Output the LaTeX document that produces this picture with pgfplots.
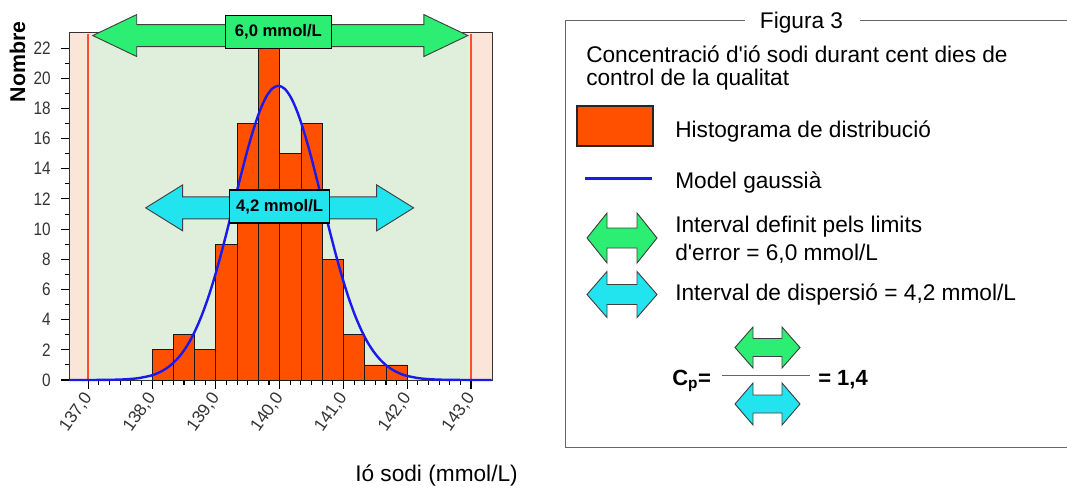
\documentclass[border=0pt]{standalone}
\usepackage{pgfplots}
\pgfplotsset{compat=1.18}
\usepackage{fontspec}
\setmainfont{Liberation Sans}
\newfontfamily\narrowsans[FakeStretch=0.85]{Liberation Sans}
\usetikzlibrary{calc}

\definecolor{barorange}{HTML}{FF5000}
\definecolor{errgreen}{HTML}{2CEE72}
\definecolor{dispcyan}{HTML}{22E4EE}
\definecolor{gaussblue}{HTML}{1A1AEE}
\definecolor{limitred}{HTML}{FF4E2E}
\definecolor{insidebg}{HTML}{DFEFDB}
\definecolor{outsidebg}{HTML}{FBE4D8}
\definecolor{ticktext}{HTML}{333333}

\newcommand{\lgd}{\fontsize{17}{19}\selectfont}
% double-headed block arrow: style, left tip, right tip, head length, head half-height, shaft half-height
\newcommand{\dblarrow}[6]{%
  \filldraw[#1] #2 -- ($#2+(#4,#5)$) -- ($#2+(#4,#6)$) -- ($#3+(-#4,#6)$) -- ($#3+(-#4,#5)$) -- #3
    -- ($#3+(-#4,-#5)$) -- ($#3+(-#4,-#6)$) -- ($#2+(#4,-#6)$) -- ($#2+(#4,-#5)$) -- cycle;}

\begin{document}
\begin{tikzpicture}
\useasboundingbox (0,0) rectangle (800.25pt,-366.75pt);

\begin{axis}[
  at={(52.5pt,-285pt)}, anchor=south west,
  scale only axis, width=316.3pt, height=260.25pt,
  xmin=136.713, xmax=143.325, ymin=0, ymax=23,
  clip=false,
  % the background fills cover the inner half of the frame line
  axis line style={black!80, line width=1.9pt},
  xtick={137,138,...,143},
  xticklabels={{137,0},{138,0},{139,0},{140,0},{141,0},{142,0},{143,0}},
  ytick={0,2,...,22},
  minor x tick num=5, minor y tick num=1,
  tick align=outside, xtick pos=left, ytick pos=left,
  major tick length=6.5pt, minor tick length=3.5pt,
  every tick/.style={black, line width=0.8pt},
  /pgf/number format/assume math mode=true,
  x tick label style={rotate=55, anchor=east, yshift=-2.5pt,
                      font=\fontsize{13}{13}\selectfont, text=ticktext},
  y tick label style={xshift=-4.5pt, font=\narrowsans\fontsize{13.5}{13.5}\selectfont, text=ticktext},
]
  % acceptance band and the region outside the error limits
  \fill[outsidebg] (axis cs:136.713,0) rectangle (axis cs:137,23);
  \fill[outsidebg] (axis cs:143,0) rectangle (axis cs:143.325,23);
  \fill[insidebg] (axis cs:137,0) rectangle (axis cs:143,23);
  \addplot[limitred, line width=1.5pt] coordinates {(137,0) (137,22.95)};
  \addplot[limitred, line width=1.5pt] coordinates {(143,0) (143,22.95)};

  % histogram, bins of 1/3 mmol/L
  \addplot[ybar interval, fill=barorange, draw=black!90, line width=0.6pt] coordinates {
    (138.000,2) (138.333,3) (138.667,2) (139.000,9) (139.333,17) (139.667,22)
    (140.000,15) (140.333,17) (140.667,8) (141.000,3) (141.333,1) (141.667,1) (142.000,1)};

  % gaussian model
  \addplot[gaussblue, line width=1.8pt, smooth] coordinates {
    (136.713,0) (136.98,0.0015) (137.18,0.005) (137.38,0.016) (137.58,0.046) (137.78,0.12)
    (137.98,0.29) (138.08,0.44) (138.18,0.65) (138.28,0.94) (138.38,1.33) (138.48,1.84)
    (138.58,2.49) (138.68,3.31) (138.78,4.30) (138.88,5.47) (138.98,6.82) (139.08,8.33)
    (139.18,9.96) (139.28,11.66) (139.38,13.36) (139.48,15.00) (139.58,16.48) (139.68,17.74)
    (139.78,18.70) (139.88,19.30) (139.98,19.50) (140.08,19.30) (140.18,18.70) (140.28,17.74)
    (140.38,16.48) (140.48,15.00) (140.58,13.36) (140.68,11.66) (140.78,9.96) (140.88,8.33)
    (140.98,6.82) (141.08,5.47) (141.18,4.30) (141.28,3.31) (141.38,2.49) (141.48,1.84)
    (141.58,1.33) (141.68,0.94) (141.78,0.65) (141.88,0.44) (141.98,0.29) (142.18,0.12)
    (142.38,0.046) (142.58,0.016) (142.78,0.005) (142.98,0.0015) (143.325,0)};

  \coordinate (gL) at (axis cs:137.07,22.83);
  \coordinate (gR) at (axis cs:142.95,22.83);
  \coordinate (gBox) at (axis cs:139.98,23.06);
  \coordinate (cL) at (axis cs:137.9,11.41);
  \coordinate (cR) at (axis cs:142.1,11.41);
  \coordinate (cBox) at (axis cs:140.0,11.5);
\end{axis}

\begin{scope}[x=0.75pt, y=-0.75pt]
  % interval arrows over the histogram
  \dblarrow{fill=errgreen, draw=black!75, line width=0.7pt}{(gL)}{(gR)}{44}{21}{11}
  \node[fill=errgreen, draw=black, line width=0.8pt, minimum width=79.5pt, minimum height=24.75pt,
        inner sep=0pt, font=\bfseries\fontsize{12.5}{12.5}\selectfont] at (gBox) {6,0 mmol/L};
  \dblarrow{fill=dispcyan, draw=black!75, line width=0.7pt}{(cL)}{(cR)}{37}{23}{11}
  \node[fill=dispcyan, draw=black, line width=0.8pt, minimum width=75pt, minimum height=24.75pt,
        inner sep=0pt, font=\bfseries\fontsize{12.5}{12.5}\selectfont] at (cBox) {4,2 mmol/L};

  % axis titles
  \node[rotate=90, inner sep=0pt, font=\bfseries\fontsize{16}{16}\selectfont] at (17.5,62) {Nombre};
  \node[anchor=base west, inner sep=0pt, font=\lgd] at (355,481) {Ió sodi (mmol/L)};

  % key panel
  \draw[black!60, line width=0.75pt] (745,20) -- (565,20) -- (565,447) -- (1075,447);
  \draw[black!60, line width=0.75pt] (860,20) -- (1075,20);
  \node[anchor=base, inner sep=0pt, font=\lgd] at (801.5,28) {Figura 3};
  \node[anchor=base west, inner sep=0pt, font=\lgd] at (586,62) {Concentració d\textquotesingle ió sodi durant cent dies de};
  \node[anchor=base west, inner sep=0pt, font=\lgd] at (586,85) {control de la qualitat};

  \filldraw[fill=barorange, draw=black!85, line width=0.8pt] (577,106) rectangle (653,146);
  \node[anchor=base west, inner sep=0pt, font=\lgd] at (675,137) {Histograma de distribució};

  \draw[gaussblue, line width=2.25pt] (585,178) -- (652,178);
  \node[anchor=base west, inner sep=0pt, font=\lgd] at (675,188) {Model gaussià};

  \dblarrow{fill=errgreen, draw=black!75, line width=0.7pt}{(587,238)}{(657,238)}{20}{25}{10}
  \node[anchor=base west, inner sep=0pt, font=\lgd] at (675,232) {Interval definit pels limits};
  \node[anchor=base west, inner sep=0pt, font=\lgd] at (675,260) {d\textquotesingle error = 6,0 mmol/L};

  \dblarrow{fill=dispcyan, draw=black!75, line width=0.7pt}{(587,294.5)}{(657,294.5)}{20}{23}{10}
  \node[anchor=base west, inner sep=0pt, font=\lgd] at (675,300) {Interval de dispersió = 4,2 mmol/L};

  % capability index
  \node[anchor=base west, inner sep=0pt, font=\bfseries\fontsize{16.5}{16.5}\selectfont] at (672,385) {C\textsubscript{p}=};
  \dblarrow{fill=errgreen, draw=black!75, line width=0.7pt}{(735,347.5)}{(800,347.5)}{18}{20.5}{9}
  \draw[black!60, line width=0.75pt] (722,375) -- (810,375);
  \dblarrow{fill=dispcyan, draw=black!75, line width=0.7pt}{(735,404)}{(800,404)}{18}{21}{9}
  \node[anchor=base west, inner sep=0pt, font=\bfseries\fontsize{16.5}{16.5}\selectfont] at (818,385) {= 1,4};
\end{scope}
\end{tikzpicture}
\end{document}
